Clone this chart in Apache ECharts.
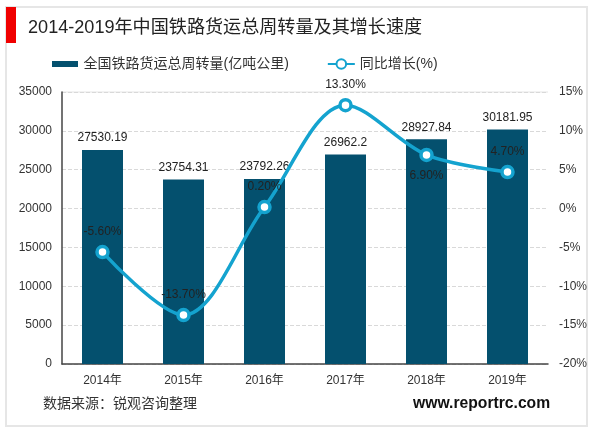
<!DOCTYPE html>
<html><head><meta charset="utf-8">
<style>html,body{margin:0;padding:0;background:#fff}#c{width:600px;height:433px}</style>
<script src="https://cdn.jsdelivr.net/npm/echarts@6/dist/echarts.min.js"></script>
</head><body><div id="c"></div>
<script>
const categories=['2014年','2015年','2016年','2017年','2018年','2019年'];
const volume=[27530.19,23754.31,23792.26,26962.2,28927.84,30181.95];
const growth=[-5.6,-13.7,0.2,13.3,6.9,4.7];
const titleText='2014-2019年中国铁路货运总周转量及其增长速度';
const sourceText='数据来源：锐观咨询整理';
const siteText='www.reportrc.com';
const font='"Liberation Sans","Noto Sans CJK SC",sans-serif';
const chart=echarts.init(document.getElementById('c'),null,{renderer:'canvas'});
chart.setOption({
 animation:false,
 backgroundColor:'#fff',
 textStyle:{fontFamily:font},
 title:{text:titleText,left:23,top:14,textStyle:{fontFamily:font,fontSize:18.1,fontWeight:'normal',color:'#222'}},
 legend:{top:52,left:47,itemGap:38,itemWidth:27,itemHeight:12,textStyle:{fontFamily:font,fontSize:14,color:'#333'},
  data:[{name:'全国铁路货运总周转量(亿吨公里)',icon:'path://M0 0M0 12M0 3H26V9H0Z'},{name:'同比增长(%)'}]},
 grid:{left:62,right:52,top:92,bottom:69},
 xAxis:{type:'category',data:categories,axisTick:{show:false},
  axisLine:{lineStyle:{color:'#444',width:1.5}},
  axisLabel:{color:'#333',fontSize:12,margin:11}},
 yAxis:[
  {type:'value',min:0,max:35000,interval:5000,
   axisLine:{show:true,lineStyle:{color:'#444',width:1.5}},axisTick:{show:false},
   axisLabel:{color:'#333',fontSize:12,margin:10,formatter:v=>String(v)},
   splitLine:{show:true,lineStyle:{type:'dashed',color:'#d9d9d9'}}},
  {type:'value',min:-20,max:15,interval:5,
   axisLine:{show:false},axisTick:{show:false},
   axisLabel:{color:'#333',fontSize:12,margin:11,formatter:'{value}%'},
   splitLine:{show:false}}
 ],
 series:[
  {name:'全国铁路货运总周转量(亿吨公里)',type:'bar',data:volume,barWidth:41,
   itemStyle:{color:'#04506e'},
   label:{show:true,position:'top',distance:6,color:'#222',fontSize:12,formatter:p=>String(p.value)}},
  {name:'同比增长(%)',type:'line',yAxisIndex:1,smooth:0.33,
   data:growth.map((v,i)=>i===4?{value:v,label:{position:'bottom',distance:7}}:v),
   symbol:'circle',symbolSize:11,
   lineStyle:{color:'#14a3cf',width:3.5},
   itemStyle:{color:'#fff',borderColor:'#14a3cf',borderWidth:3.5},
   label:{show:true,position:'top',distance:7,color:'#222',fontSize:12,formatter:p=>p.value.toFixed(2)+'%'}}
 ],
 graphic:[
  {type:'rect',z:-1,shape:{x:6,y:7,width:581,height:419},style:{fill:'#fff',stroke:'#e6e6e6',lineWidth:2}},
  {type:'rect',shape:{x:6,y:7,width:10,height:36},style:{fill:'#f00000'}},
  {type:'line',shape:{x1:62,y1:92,x2:548,y2:92},style:{stroke:'#e4e4e4',lineWidth:1}},
  {type:'text',left:43,top:397,style:{text:sourceText,font:'14px '+font,fill:'#333'}},
  {type:'text',left:413,top:396,style:{text:siteText,font:'bold 15.7px '+font,fill:'#111'}}
 ]
});
</script></body></html>
